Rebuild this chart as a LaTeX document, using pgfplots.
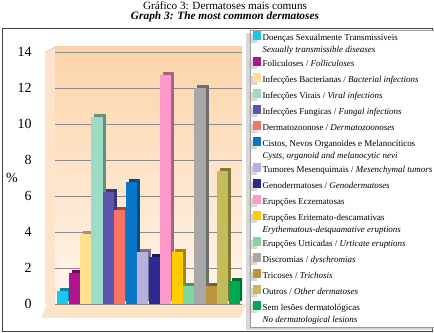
\documentclass[border=0pt]{standalone}
\usepackage{fontspec}
\setmainfont{Liberation Serif}
\usepackage{pgfplots}
\pgfplotsset{compat=1.18}
\usetikzlibrary{shadows}
\definecolor{c1}{HTML}{19C8F2}
\definecolor{c2}{HTML}{B0138F}
\definecolor{c3}{HTML}{FFE08F}
\definecolor{c4}{HTML}{9DDCC4}
\definecolor{c5}{HTML}{5B55B0}
\definecolor{c6}{HTML}{F87266}
\definecolor{c7}{HTML}{0A76C8}
\definecolor{c8}{HTML}{B5B0DE}
\definecolor{c9}{HTML}{2A2A90}
\definecolor{c10}{HTML}{FF99CC}
\definecolor{c11}{HTML}{FFCC00}
\definecolor{c12}{HTML}{80D8A0}
\definecolor{c13}{HTML}{A8A8A8}
\definecolor{c14}{HTML}{BC9440}
\definecolor{c15}{HTML}{C4BC5A}
\definecolor{c16}{HTML}{00A850}
\definecolor{walltop}{HTML}{FCD3A8}
\definecolor{wallbot}{HTML}{FFF5EC}
\definecolor{floorc}{HTML}{FDE3C8}
\begin{document}
\begin{tikzpicture}
\path[use as bounding box] (0bp,0bp) rectangle (434bp,333bp);
\draw[black!75, line width=0.8bp] (2bp,2bp) rectangle (432bp,305bp);
\node[inner sep=0] at (225bp,327bp) {\resizebox{164bp}{7.8bp}{\fontsize{11}{13}\selectfont Gráfico 3: Dermatoses mais comuns}};
\node[inner sep=0] at (225bp,316bp) {\resizebox{188bp}{7.8bp}{\fontsize{11}{13}\selectfont\bfseries\itshape Graph 3: The most common dermatoses}};
\fill[floorc] (41bp,15bp) -- (240bp,15bp) -- (246bp,29bp) -- (47bp,29bp) -- cycle;
\fill[left color=floorc, right color=walltop!60] (45bp,29bp) -- (55bp,29bp) -- (55bp,286bp) -- (45bp,280bp) -- cycle;
\begin{axis}[
  at={(55bp,29bp)}, anchor=south west, scale only axis,
  width=187bp, height=257.4bp,
  ybar, bar width=11.2bp,
  xmin=0.33, xmax=16.67, ymin=0, ymax=14.3,
  xtick=\empty, ytick={0,2,...,14},
  ymajorgrids, grid style={black!45, line width=0.5bp},
  axis line style={draw=none},
  major tick length=0pt,
  axis background/.style={top color=walltop, bottom color=wallbot},
  /pgf/number format/assume math mode=true,
  yticklabel style={font=\fontsize{14}{16}\selectfont, xshift=-20bp},
  ylabel={\%}, ylabel style={rotate=-90, anchor=center, font=\fontsize{14}{16}\selectfont, at={(axis description cs:-0.23,0.49)}},
  legend style={at={(axis description cs:1.043,1.0645)}, anchor=north west,
    draw=black!40, fill=white, font=\fontsize{9}{10}\selectfont,
    drop shadow={shadow xshift=-4bp, shadow yshift=-3bp, fill=black!30},
    row sep=0bp, inner xsep=3bp, inner ysep=0.5bp,
    nodes={inner ysep=0pt, inner xsep=2bp, text height=9.5bp, text depth=6.5bp}},
  legend cell align=left,
  legend image code/.code={\fill[#1,draw=none] (0bp,-1.5bp) rectangle (7.5bp,7.5bp);},
]
\addplot[fill=c1!65!black, draw=none, forget plot, bar shift=3bp, yshift=3bp] coordinates {(1,0.7)};
\addplot[fill=c1, draw=none, bar shift=0pt] coordinates {(1,0.7)};
\addlegendentry{Doenças Sexualmente Transmissíveis}
\addlegendimage{empty legend}
\addlegendentry[text height=5.5bp, text depth=4.5bp]{\textit{Sexually transmissible diseases}}
\addplot[fill=c2!65!black, draw=none, forget plot, bar shift=3bp, yshift=3bp] coordinates {(2,1.7)};
\addplot[fill=c2, draw=none, bar shift=0pt] coordinates {(2,1.7)};
\addlegendentry{Foliculoses / \textit{Folliculoses}}
\addplot[fill=c3!65!black, draw=none, forget plot, bar shift=3bp, yshift=3bp] coordinates {(3,3.9)};
\addplot[fill=c3, draw=none, bar shift=0pt] coordinates {(3,3.9)};
\addlegendentry{Infecções Bacterianas / \textit{Bacterial infections}}
\addplot[fill=c4!65!black, draw=none, forget plot, bar shift=3bp, yshift=3bp] coordinates {(4,10.4)};
\addplot[fill=c4, draw=none, bar shift=0pt] coordinates {(4,10.4)};
\addlegendentry{Infecções Virais / \textit{Viral infections}}
\addplot[fill=c5!65!black, draw=none, forget plot, bar shift=3bp, yshift=3bp] coordinates {(5,6.2)};
\addplot[fill=c5, draw=none, bar shift=0pt] coordinates {(5,6.2)};
\addlegendentry{Infecções Fungicas / \textit{Fungal infections}}
\addplot[fill=c6!65!black, draw=none, forget plot, bar shift=3bp, yshift=3bp] coordinates {(6,5.2)};
\addplot[fill=c6, draw=none, bar shift=0pt] coordinates {(6,5.2)};
\addlegendentry{Dermatozoonose / \textit{Dermatozoonoses}}
\addplot[fill=c7!65!black, draw=none, forget plot, bar shift=3bp, yshift=3bp] coordinates {(7,6.8)};
\addplot[fill=c7, draw=none, bar shift=0pt] coordinates {(7,6.8)};
\addlegendentry{Cistos, Nevos Organoides e Melanocíticos}
\addlegendimage{empty legend}
\addlegendentry[text height=5.5bp, text depth=4.5bp]{\textit{Cysts, organoid and melanocytic nevi}}
\addplot[fill=c8!65!black, draw=none, forget plot, bar shift=3bp, yshift=3bp] coordinates {(8,2.9)};
\addplot[fill=c8, draw=none, bar shift=0pt] coordinates {(8,2.9)};
\addlegendentry{Tumores Mesenquimais / \textit{Mesenchymal tumors}}
\addplot[fill=c9!65!black, draw=none, forget plot, bar shift=3bp, yshift=3bp] coordinates {(9,2.6)};
\addplot[fill=c9, draw=none, bar shift=0pt] coordinates {(9,2.6)};
\addlegendentry{Genodermatoses / \textit{Genodermatoses}}
\addplot[fill=c10!65!black, draw=none, forget plot, bar shift=3bp, yshift=3bp] coordinates {(10,12.7)};
\addplot[fill=c10, draw=none, bar shift=0pt] coordinates {(10,12.7)};
\addlegendentry{Erupções Eczematosas}
\addplot[fill=c11!65!black, draw=none, forget plot, bar shift=3bp, yshift=3bp] coordinates {(11,2.9)};
\addplot[fill=c11, draw=none, bar shift=0pt] coordinates {(11,2.9)};
\addlegendentry{Erupções Eritemato-descamativas}
\addlegendimage{empty legend}
\addlegendentry[text height=5.5bp, text depth=4.5bp]{\textit{Erythematous-desquamative eruptions}}
\addplot[fill=c12!65!black, draw=none, forget plot, bar shift=3bp, yshift=3bp] coordinates {(12,1.0)};
\addplot[fill=c12, draw=none, bar shift=0pt] coordinates {(12,1.0)};
\addlegendentry{Erupções Urticadas / \textit{Urticate eruptions}}
\addplot[fill=c13!65!black, draw=none, forget plot, bar shift=3bp, yshift=3bp] coordinates {(13,12.0)};
\addplot[fill=c13, draw=none, bar shift=0pt] coordinates {(13,12.0)};
\addlegendentry{Discromias / \textit{dyschromias}}
\addplot[fill=c14!65!black, draw=none, forget plot, bar shift=3bp, yshift=3bp] coordinates {(14,1.0)};
\addplot[fill=c14, draw=none, bar shift=0pt] coordinates {(14,1.0)};
\addlegendentry{Tricoses / \textit{Trichosis}}
\addplot[fill=c15!65!black, draw=none, forget plot, bar shift=3bp, yshift=3bp] coordinates {(15,7.4)};
\addplot[fill=c15, draw=none, bar shift=0pt] coordinates {(15,7.4)};
\addlegendentry{Outros / \textit{Other dermatoses}}
\addplot[fill=c16!65!black, draw=none, forget plot, bar shift=3bp, yshift=3bp] coordinates {(16,1.3)};
\addplot[fill=c16, draw=none, bar shift=0pt] coordinates {(16,1.3)};
\addlegendentry{Sem lesões dermatológicas}
\addlegendimage{empty legend}
\addlegendentry[text height=5.5bp, text depth=4.5bp]{\textit{No dermatological lesions}}
\end{axis}
\end{tikzpicture}
\end{document}
